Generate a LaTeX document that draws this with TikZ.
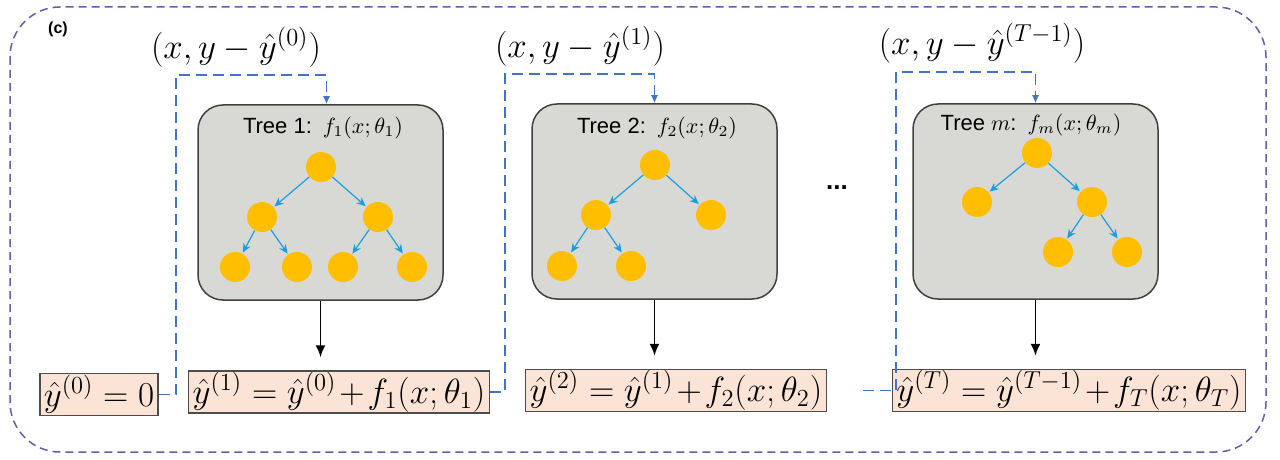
\documentclass[tikz,border=0pt]{standalone}
\usepackage{fix-cm}
\usepackage{fontspec}
\setsansfont{Liberation Sans}
\usetikzlibrary{arrows.meta}
\definecolor{framecol}{RGB}{96,96,168}
\definecolor{feedcol}{RGB}{68,114,196}
\definecolor{treefill}{RGB}{216,216,212}
\definecolor{leafcol}{RGB}{255,190,0}
\definecolor{branchcol}{RGB}{25,160,220}
\definecolor{outfill}{RGB}{251,228,213}
\tikzset{
  treebox/.style={draw=black!75, fill=treefill, line width=0.75pt, rounded corners=12.5pt, minimum width=122.5pt, minimum height=97.5pt},
  treetitle/.style={font=\sffamily\fontsize{11}{13}\selectfont},
  leaf/.style={circle, fill=leafcol, minimum size=15pt, inner sep=0pt},
  branch/.style={-{Stealth[length=4.5pt,width=4pt]}, branchcol, line width=0.6pt, shorten >=0.5pt},
  outbox/.style={draw=black!70, fill=outfill, line width=0.75pt, minimum height=21pt, inner xsep=2pt, inner ysep=0pt, font=\fontsize{17.5}{21}\selectfont},
  inlabel/.style={font=\fontsize{17.5}{21}\selectfont},
  feed/.style={feedcol, line width=0.7pt, dash pattern=on 5.5pt off 3pt, -{Latex[length=4pt,width=3.5pt]}},
  update/.style={-{Latex[length=6pt,width=5pt]}, line width=0.9pt, shorten >=6.5pt}
}
\begin{document}
\begin{tikzpicture}[x=0.5pt,y=-0.5pt]
  \useasboundingbox (0,0) rectangle (1280,460);
  \draw[framecol, line width=0.75pt, dash pattern=on 4pt off 2.5pt, rounded corners=25pt] (10,7) rectangle (1266,452);
  \node[font=\sffamily\bfseries\fontsize{8}{9}\selectfont] (panel) at (58,29) {(c)};

  \node[treebox] (tree1) at (320.5,202.5) {};
  \node[treebox] (tree2) at (654.5,201.5) {};
  \node[treebox] (tree3) at (1035.5,201.5) {};
  \node[treetitle] (title1) at (323,128) {Tree 1:\enspace $f_1(x;\theta_1)$};
  \node[treetitle] (title2) at (657,128) {Tree 2:\enspace $f_2(x;\theta_2)$};
  \node[treetitle] (title3) at (1031,125) {Tree $m$:\enspace $f_m(x;\theta_m)$};

  \node[leaf] (a0) at (321,167) {};
  \node[leaf] (a1) at (262,217) {};
  \node[leaf] (a2) at (378,217) {};
  \node[leaf] (a3) at (235,267) {};
  \node[leaf] (a4) at (297,267) {};
  \node[leaf] (a5) at (343,267) {};
  \node[leaf] (a6) at (412,267) {};
  \draw[branch] (a0) -- (a1);
  \draw[branch] (a0) -- (a2);
  \draw[branch] (a1) -- (a3);
  \draw[branch] (a1) -- (a4);
  \draw[branch] (a2) -- (a5);
  \draw[branch] (a2) -- (a6);

  \node[leaf] (b0) at (655,165) {};
  \node[leaf] (b1) at (596,215) {};
  \node[leaf] (b2) at (711,215) {};
  \node[leaf] (b3) at (562,266) {};
  \node[leaf] (b4) at (631,266) {};
  \draw[branch] (b0) -- (b1);
  \draw[branch] (b0) -- (b2);
  \draw[branch] (b1) -- (b3);
  \draw[branch] (b1) -- (b4);

  \node[leaf] (c0) at (1037,153) {};
  \node[leaf] (c1) at (977,202) {};
  \node[leaf] (c2) at (1092,202) {};
  \node[leaf] (c3) at (1058,252) {};
  \node[leaf] (c4) at (1127,252) {};
  \draw[branch] (c0) -- (c1);
  \draw[branch] (c0) -- (c2);
  \draw[branch] (c2) -- (c3);
  \draw[branch] (c2) -- (c4);

  \node[font=\sffamily\bfseries\fontsize{13}{15}\selectfont] (more) at (837,188) {...};

  \node[outbox] (out0) at (99,394.5) {$\hat{y}^{(0)}=0$};
  \node[outbox] (out1) at (339,392) {$\hat{y}^{(1)}=\hat{y}^{(0)}\mkern1.5mu{+}\mkern1.5mu f_1(x;\theta_1)$};
  \node[outbox] (out2) at (676,390.5) {$\hat{y}^{(2)}=\hat{y}^{(1)}\mkern1.5mu{+}\mkern1.5mu f_2(x;\theta_2)$};
  \node[outbox] (out3) at (1069,390.5) {$\hat{y}^{(T)}=\hat{y}^{(T-1)}\mkern1.5mu{+}\mkern1.5mu f_T(x;\theta_T)$};

  \draw[update] (tree1.south) -- (tree1.south |- out1.north);
  \draw[update] (tree2.south) -- (tree2.south |- out2.north);
  \draw[update] (tree3.south) -- (tree3.south |- out3.north);

  \node[inlabel] (in1) at (236,47) {$(x,y-\hat{y}^{(0)})$};
  \node[inlabel] (in2) at (580,46) {$(x,y-\hat{y}^{(1)})$};
  \node[inlabel] (in3) at (982,43) {$(x,y-\hat{y}^{(T-1)})$};

  \coordinate (carry) at (863,390.5);
  \draw[feed] (out0.east) -| (176,75) -| ([xshift=3pt]tree1.north);
  \draw[feed] (out1.east) -| (505,74) -| (tree2.north);
  \draw[feed] (carry) -| (896,72) -| (tree3.north);
\end{tikzpicture}
\end{document}
